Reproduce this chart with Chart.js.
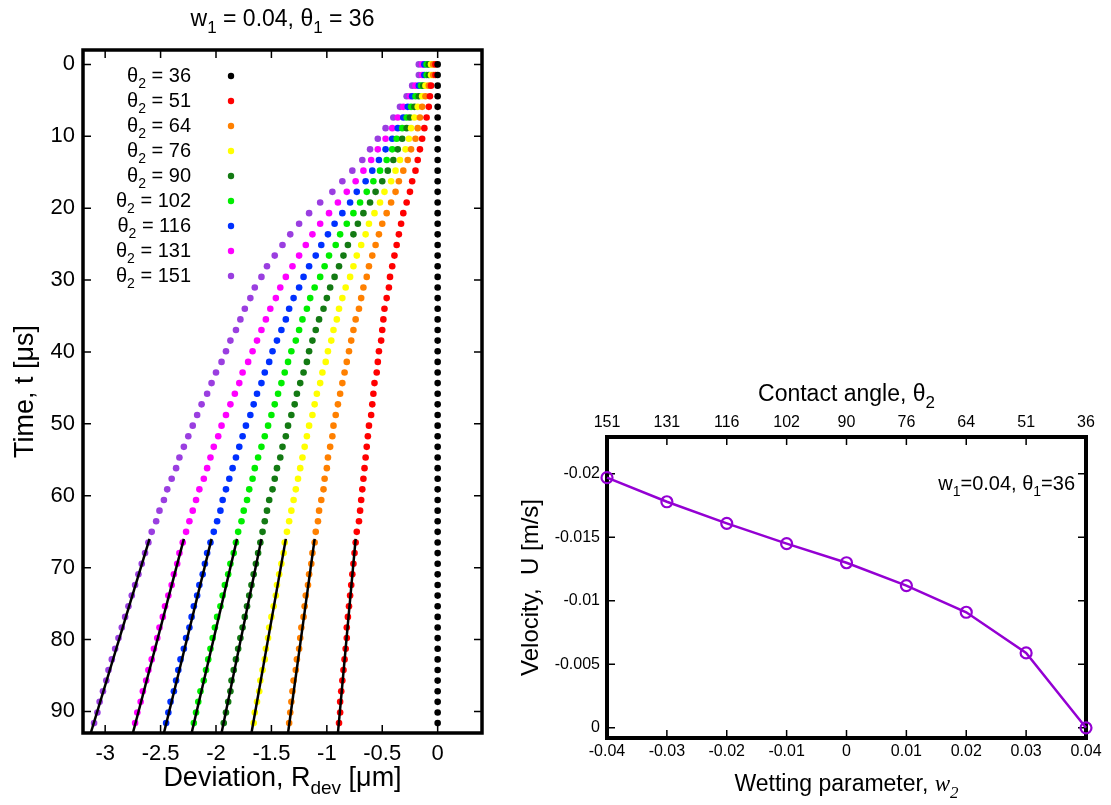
<!DOCTYPE html>
<html>
<head>
<meta charset="utf-8">
<script src="https://cdn.jsdelivr.net/npm/chart.js@4.4.1/dist/chart.umd.min.js"></script>
<style>
  body { margin: 0; background: #fff; width: 1111px; height: 805px; overflow: hidden; position: relative; }
  #dev { position: absolute; left: 0; top: 0; }
  #vel { position: absolute; left: 500px; top: 0; }
</style>
</head>
<body>
<canvas id="dev" width="500" height="805"></canvas>
<canvas id="vel" width="611" height="805"></canvas>
<script>
// ---- left panel: deviation vs time ----
const timeUs = [0, 1.48, 2.96, 4.43, 5.91, 7.39, 8.87, 10.34, 11.82, 13.3,
  14.78, 16.26, 17.73, 19.21, 20.69, 22.17, 23.64, 25.12, 26.6, 28.08,
  29.56, 31.03, 32.51, 33.99, 35.47, 36.94, 38.42, 39.9, 41.38, 42.86,
  44.33, 45.81, 47.29, 48.77, 50.25, 51.72, 53.2, 54.68, 56.16, 57.63,
  59.11, 60.59, 62.07, 63.55, 65.02, 66.5, 67.98, 69.46, 70.93, 72.41,
  73.89, 75.37, 76.85, 78.32, 79.8, 81.28, 82.76, 84.23, 85.71, 87.19,
  88.67, 90.15, 91.62];

const theta2 = [36, 51, 64, 76, 90, 102, 116, 131, 151];
const colors = ["#000000", "#ff0000", "#ff8000", "#ffff00", "#137a13", "#00ee00", "#0030ff", "#ff00ff", "#9a3ee0"];

const dev36 = [0, 0, 0, 0, 0, 0, 0, 0, 0, 0, 0, 0, 0, 0, 0, 0, 0, 0, 0, 0,
  0, 0, 0, 0, 0, 0, 0, 0, 0, 0, 0, 0, 0, 0, 0, 0, 0, 0, 0, 0,
  0, 0, 0, 0, 0, 0, 0, 0, 0, 0, 0, 0, 0, 0, 0, 0, 0, 0, 0, 0, 0, 0, 0];
const dev51 = [-0.02, -0.02, -0.06, -0.07, -0.08, -0.10, -0.12, -0.14, -0.16, -0.18,
  -0.20, -0.23, -0.25, -0.28, -0.31, -0.33, -0.35, -0.37, -0.39, -0.41,
  -0.43, -0.44, -0.46, -0.48, -0.49, -0.50, -0.51, -0.53, -0.54, -0.55,
  -0.57, -0.58, -0.59, -0.60, -0.62, -0.63, -0.64, -0.65, -0.66, -0.67,
  -0.68, -0.69, -0.70, -0.71, -0.73, -0.74, -0.75, -0.76, -0.77, -0.78,
  -0.79, -0.80, -0.81, -0.82, -0.82, -0.83, -0.84, -0.85, -0.86, -0.87,
  -0.88, -0.88, -0.89];
const dev64 = [-0.04, -0.04, -0.08, -0.11, -0.14, -0.16, -0.18, -0.20, -0.24, -0.27,
  -0.31, -0.35, -0.38, -0.42, -0.46, -0.50, -0.53, -0.56, -0.59, -0.62,
  -0.64, -0.67, -0.69, -0.71, -0.74, -0.76, -0.78, -0.80, -0.82, -0.84,
  -0.86, -0.88, -0.90, -0.92, -0.94, -0.95, -0.97, -0.99, -1.00, -1.02,
  -1.03, -1.05, -1.07, -1.08, -1.10, -1.11, -1.13, -1.14, -1.16, -1.17,
  -1.19, -1.20, -1.21, -1.23, -1.24, -1.25, -1.27, -1.28, -1.30, -1.31,
  -1.32, -1.33, -1.34];
const dev76 = [-0.06, -0.06, -0.11, -0.14, -0.18, -0.21, -0.24, -0.26, -0.29, -0.34,
  -0.38, -0.42, -0.48, -0.52, -0.57, -0.62, -0.65, -0.69, -0.73, -0.76,
  -0.79, -0.83, -0.86, -0.89, -0.91, -0.94, -0.96, -0.99, -1.01, -1.04,
  -1.06, -1.09, -1.11, -1.13, -1.16, -1.18, -1.20, -1.22, -1.24, -1.26,
  -1.28, -1.30, -1.32, -1.34, -1.36, -1.38, -1.39, -1.41, -1.43, -1.45,
  -1.46, -1.48, -1.50, -1.52, -1.53, -1.55, -1.56, -1.58, -1.60, -1.61,
  -1.63, -1.65, -1.66];
const dev90 = [-0.08, -0.08, -0.13, -0.17, -0.21, -0.25, -0.28, -0.32, -0.36, -0.40,
  -0.45, -0.50, -0.56, -0.61, -0.67, -0.72, -0.76, -0.81, -0.85, -0.89,
  -0.93, -0.97, -1.00, -1.03, -1.07, -1.10, -1.13, -1.16, -1.18, -1.21,
  -1.24, -1.27, -1.29, -1.32, -1.35, -1.37, -1.40, -1.42, -1.45, -1.47,
  -1.49, -1.52, -1.54, -1.56, -1.58, -1.60, -1.62, -1.64, -1.66, -1.68,
  -1.70, -1.72, -1.74, -1.76, -1.78, -1.80, -1.82, -1.84, -1.86, -1.87,
  -1.89, -1.91, -1.93];
const dev102 = [-0.10, -0.10, -0.15, -0.20, -0.24, -0.28, -0.32, -0.37, -0.41, -0.46,
  -0.52, -0.58, -0.64, -0.70, -0.76, -0.82, -0.88, -0.92, -0.98, -1.02,
  -1.06, -1.11, -1.15, -1.18, -1.22, -1.25, -1.28, -1.32, -1.35, -1.38,
  -1.41, -1.44, -1.47, -1.50, -1.53, -1.56, -1.59, -1.62, -1.65, -1.67,
  -1.70, -1.72, -1.75, -1.77, -1.80, -1.82, -1.84, -1.87, -1.89, -1.92,
  -1.94, -1.96, -1.99, -2.01, -2.03, -2.05, -2.07, -2.09, -2.11, -2.14,
  -2.16, -2.18, -2.20];
const dev116 = [-0.12, -0.12, -0.17, -0.23, -0.27, -0.31, -0.36, -0.41, -0.47, -0.53,
  -0.59, -0.65, -0.73, -0.79, -0.86, -0.93, -0.99, -1.05, -1.10, -1.16,
  -1.21, -1.25, -1.30, -1.34, -1.37, -1.41, -1.45, -1.49, -1.52, -1.56,
  -1.59, -1.63, -1.66, -1.69, -1.73, -1.76, -1.79, -1.82, -1.85, -1.88,
  -1.91, -1.94, -1.96, -1.99, -2.02, -2.05, -2.08, -2.10, -2.12, -2.15,
  -2.17, -2.20, -2.22, -2.24, -2.27, -2.29, -2.32, -2.34, -2.36, -2.38,
  -2.41, -2.43, -2.45];
const dev131 = [-0.14, -0.14, -0.20, -0.25, -0.31, -0.36, -0.41, -0.47, -0.54, -0.60,
  -0.67, -0.74, -0.82, -0.90, -0.98, -1.06, -1.13, -1.19, -1.25, -1.31,
  -1.37, -1.42, -1.46, -1.51, -1.55, -1.59, -1.63, -1.67, -1.71, -1.76,
  -1.79, -1.83, -1.87, -1.91, -1.95, -1.98, -2.02, -2.05, -2.08, -2.11,
  -2.15, -2.18, -2.21, -2.24, -2.27, -2.30, -2.33, -2.35, -2.38, -2.40,
  -2.43, -2.46, -2.48, -2.51, -2.53, -2.56, -2.58, -2.61, -2.63, -2.66,
  -2.68, -2.71, -2.73];
const dev151 = [-0.17, -0.17, -0.23, -0.28, -0.34, -0.40, -0.47, -0.54, -0.61, -0.68,
  -0.77, -0.86, -0.95, -1.06, -1.16, -1.25, -1.33, -1.40, -1.47, -1.54,
  -1.59, -1.65, -1.69, -1.74, -1.78, -1.82, -1.87, -1.91, -1.95, -2.00,
  -2.04, -2.08, -2.13, -2.17, -2.21, -2.25, -2.29, -2.33, -2.36, -2.40,
  -2.44, -2.47, -2.51, -2.54, -2.58, -2.61, -2.64, -2.67, -2.70, -2.73,
  -2.76, -2.79, -2.82, -2.85, -2.88, -2.91, -2.94, -2.97, -2.99, -3.02,
  -3.05, -3.07, -3.10];
const deviations = [dev36, dev51, dev64, dev76, dev90, dev102, dev116, dev131, dev151];

// linear fits over the late-time part (theta2 = 51 ... 151)
const fitTime = [66, 93];
const fitStart = [-0.74, -1.11, -1.37, -1.59, -1.81, -2.04, -2.29, -2.60];
const fitEnd = [-0.90, -1.35, -1.68, -1.95, -2.22, -2.47, -2.75, -3.13];

const devTicks = [-3, -2.5, -2, -1.5, -1, -0.5, 0];
const devTickLabels = ["-3", "-2.5", "-2", "-1.5", "-1", "-0.5", "0"];
const timeTicks = [0, 10, 20, 30, 40, 50, 60, 70, 80, 90];

// ---- right panel: velocity vs wetting parameter ----
const wettingW = [-0.04, -0.03, -0.02, -0.01, 0, 0.01, 0.02, 0.03, 0.04];
const wTickLabels = ["-0.04", "-0.03", "-0.02", "-0.01", "0", "0.01", "0.02", "0.03", "0.04"];
const contactAngleLabels = ["151", "131", "116", "102", "90", "76", "64", "51", "36"];
const velocityU = [-0.0197, -0.0178, -0.0161, -0.0145, -0.0130, -0.0112, -0.0091, -0.0059, 0];
const velTicks = [-0.02, -0.015, -0.01, -0.005, 0];
const velTickLabels = ["-0.02", "-0.015", "-0.01", "-0.005", "0"];

const SANS = '"Liberation Sans", Arial, sans-serif';
const SERIF = '"Liberation Serif", "Times New Roman", serif';

// text with subscripts; segs = [[text, kind], ...], kind: "", "sub", "it", "itsub"
function drawRich(ctx, segs, x, y, opt) {
  const size = opt.size;
  const fontFor = (k) => {
    const s = k.includes("sub") ? Math.round(size * 0.72) : size;
    const fam = k.includes("it") ? SERIF : SANS;
    return (k.includes("it") ? "italic " : "") + s + "px " + fam;
  };
  let w = 0;
  for (const [t, k] of segs) { ctx.font = fontFor(k); w += ctx.measureText(t).width; }
  ctx.save();
  ctx.translate(x, y);
  if (opt.rotate) ctx.rotate(opt.rotate);
  let cx = opt.align === "right" ? -w : opt.align === "left" ? 0 : -w / 2;
  ctx.fillStyle = "#000";
  ctx.textAlign = "left";
  ctx.textBaseline = "alphabetic";
  for (const [t, k] of segs) {
    ctx.font = fontFor(k);
    ctx.fillText(t, cx, k.includes("sub") ? size * 0.3 : 0);
    cx += ctx.measureText(t).width;
  }
  ctx.restore();
}

// gnuplot-like frame with inward ticks on all four sides
function drawFrame(chart, lw, xId, yId, xs, ys) {
  const { ctx, chartArea: a } = chart;
  const sx = chart.scales[xId], sy = chart.scales[yId];
  ctx.save();
  ctx.strokeStyle = "#000";
  ctx.lineWidth = 1.5;
  ctx.beginPath();
  xs.forEach((v) => {
    const p = sx.getPixelForValue(v);
    ctx.moveTo(p, a.bottom); ctx.lineTo(p, a.bottom - 8);
    ctx.moveTo(p, a.top); ctx.lineTo(p, a.top + 8);
  });
  ys.forEach((v) => {
    const p = sy.getPixelForValue(v);
    ctx.moveTo(a.left, p); ctx.lineTo(a.left + 8, p);
    ctx.moveTo(a.right, p); ctx.lineTo(a.right - 8, p);
  });
  ctx.stroke();
  ctx.lineWidth = lw;
  ctx.strokeRect(a.left, a.top, a.right - a.left, a.bottom - a.top);
  ctx.restore();
}

const leftDecor = {
  id: "leftDecor",
  beforeDatasetsDraw(chart) {
    drawFrame(chart, 3.5, "x", "y", devTicks, timeTicks);
  },
  afterDraw(chart) {
    const ctx = chart.ctx, a = chart.chartArea;
    const mid = (a.left + a.right) / 2;
    drawRich(ctx, [["w", ""], ["1", "sub"], [" = 0.04, θ", ""], ["1", "sub"], [" = 36", ""]], mid, 26, { size: 23 });
    drawRich(ctx, [["Deviation, R", ""], ["dev", "sub"], [" [μm]", ""]], mid, 786, { size: 27 });
    drawRich(ctx, [["Time, t [μs]", ""]], 33, (a.top + a.bottom) / 2, { size: 27, rotate: -Math.PI / 2 });
    // legend
    theta2.forEach((th, i) => {
      const y = 76 + 25 * i;
      drawRich(ctx, [["θ", ""], ["2", "sub"], [" = " + th, ""]], 191, y + 6, { size: 20, align: "right" });
      ctx.beginPath();
      ctx.arc(231, y, 3.2, 0, Math.PI * 2);
      ctx.fillStyle = colors[i];
      ctx.fill();
    });
  },
};

const devDatasets = [];
deviations.forEach((dev, i) => {
  devDatasets.push({
    label: "θ2 = " + theta2[i],
    data: timeUs.map((t, k) => ({ x: dev[k], y: t })),
    backgroundColor: colors[i],
    borderColor: colors[i],
    pointRadius: 3.3,
    pointBorderWidth: 0,
    showLine: false,
    order: 1,
  });
});
fitStart.forEach((x0, i) => {
  devDatasets.push({
    label: "fit " + theta2[i + 1],
    data: [{ x: x0, y: fitTime[0] }, { x: fitEnd[i], y: fitTime[1] }],
    borderColor: "#000",
    borderWidth: 2.5,
    pointRadius: 0,
    showLine: true,
    order: 0,
  });
});

new Chart(document.getElementById("dev"), {
  type: "scatter",
  data: { datasets: devDatasets },
  options: {
    responsive: false,
    animation: false,
    devicePixelRatio: 1,
    events: [],
    layout: { padding: { left: 0, right: 18, top: 50, bottom: 0 } },
    plugins: { legend: { display: false }, tooltip: { enabled: false } },
    scales: {
      x: {
        type: "linear",
        min: -3.2,
        max: 0.4,
        grid: { display: false, drawTicks: false },
        border: { display: false },
        afterBuildTicks: (s) => { s.ticks = devTicks.map((v) => ({ value: v })); },
        afterFit: (s) => { s.height = 72; },
        ticks: {
          autoSkip: false,
          maxRotation: 0,
          padding: 8,
          color: "#000",
          font: { family: SANS, size: 22 },
          callback: (v, i) => devTickLabels[i],
        },
      },
      y: {
        type: "linear",
        reverse: true,
        min: -2,
        max: 93,
        grid: { display: false, drawTicks: false },
        border: { display: false },
        afterBuildTicks: (s) => { s.ticks = timeTicks.map((v) => ({ value: v })); },
        afterFit: (s) => { s.width = 83; },
        ticks: {
          autoSkip: false,
          padding: 8,
          color: "#000",
          font: { family: SANS, size: 22 },
          callback: (v) => String(v),
        },
      },
    },
  },
  plugins: [leftDecor],
});

const rightDecor = {
  id: "rightDecor",
  beforeDatasetsDraw(chart) {
    drawFrame(chart, 4, "x", "y", wettingW, velTicks);
  },
  afterDraw(chart) {
    const ctx = chart.ctx, a = chart.chartArea;
    const mid = (a.left + a.right) / 2;
    drawRich(ctx, [["Contact angle, θ", ""], ["2", "sub"]], mid, 401, { size: 23 });
    drawRich(ctx, [["Wetting parameter, ", ""], ["w", "it"], ["2", "itsub"]], mid, 791, { size: 23 });
    drawRich(ctx, [["Velocity,  U [m/s]", ""]], 38, (a.top + a.bottom) / 2, { size: 24, rotate: -Math.PI / 2 });
    drawRich(ctx, [["w", ""], ["1", "sub"], ["=0.04, θ", ""], ["1", "sub"], ["=36", ""]], a.right - 11, 490, { size: 20, align: "right" });
  },
};

new Chart(document.getElementById("vel"), {
  type: "line",
  data: {
    datasets: [{
      label: "U",
      data: wettingW.map((w, i) => ({ x: w, y: velocityU[i] })),
      borderColor: "#9400d3",
      backgroundColor: "rgba(0,0,0,0)",
      borderWidth: 2.5,
      pointRadius: 5.5,
      pointBorderWidth: 2.2,
      pointBackgroundColor: "rgba(0,0,0,0)",
      pointBorderColor: "#9400d3",
      clip: false,
      xAxisID: "x",
      yAxisID: "y",
    }],
  },
  options: {
    responsive: false,
    animation: false,
    devicePixelRatio: 1,
    events: [],
    layout: { padding: { left: 0, right: 25, top: 0, bottom: 0 } },
    plugins: { legend: { display: false }, tooltip: { enabled: false } },
    scales: {
      x: {
        type: "linear",
        position: "bottom",
        min: -0.04,
        max: 0.04,
        grid: { display: false, drawTicks: false },
        border: { display: false },
        afterBuildTicks: (s) => { s.ticks = wettingW.map((v) => ({ value: v })); },
        afterFit: (s) => { s.height = 67; },
        ticks: {
          autoSkip: false,
          maxRotation: 0,
          padding: 4,
          color: "#000",
          font: { family: SANS, size: 16 },
          callback: (v, i) => wTickLabels[i],
        },
      },
      x2: {
        type: "linear",
        position: "top",
        min: -0.04,
        max: 0.04,
        grid: { display: false, drawTicks: false },
        border: { display: false },
        afterBuildTicks: (s) => { s.ticks = wettingW.map((v) => ({ value: v })); },
        afterFit: (s) => { s.height = 437; },
        ticks: {
          autoSkip: false,
          maxRotation: 0,
          padding: 5,
          color: "#000",
          font: { family: SANS, size: 16 },
          callback: (v, i) => contactAngleLabels[i],
        },
      },
      y: {
        type: "linear",
        reverse: true,
        min: -0.0229,
        max: 0.0008,
        grid: { display: false, drawTicks: false },
        border: { display: false },
        afterBuildTicks: (s) => { s.ticks = velTicks.map((v) => ({ value: v })); },
        afterFit: (s) => { s.width = 107; },
        ticks: {
          autoSkip: false,
          padding: 7,
          color: "#000",
          font: { family: SANS, size: 16 },
          callback: (v, i) => velTickLabels[i],
        },
      },
    },
  },
  plugins: [rightDecor],
});
</script>
</body>
</html>
